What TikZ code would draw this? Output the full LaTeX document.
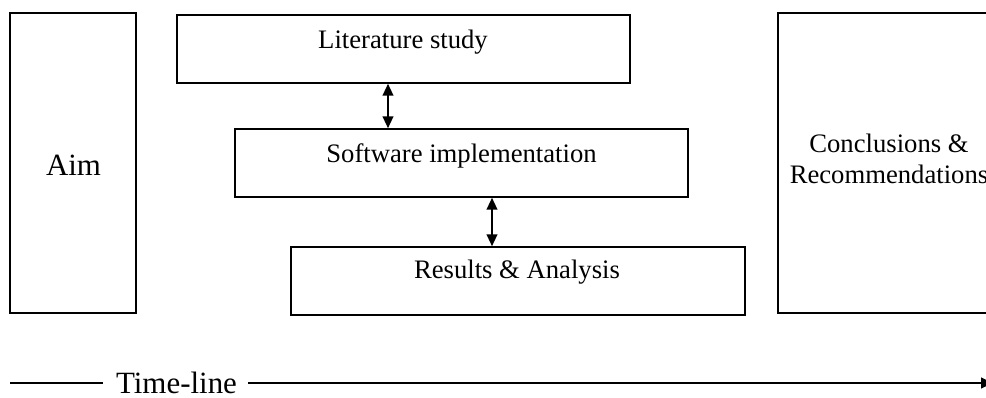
\documentclass[tikz,border=0pt]{standalone}
\usepackage{fontspec}
\setmainfont{Liberation Serif}
\usetikzlibrary{arrows.meta,fit}
\begin{document}
\begin{tikzpicture}[x=0.75pt,y=-0.75pt,
  thinbox/.style={draw=black,line width=1.1pt,inner sep=0pt},
  thickbox/.style={draw=black,line width=1.5pt,inner sep=0pt},
  txt/.style={anchor=base,inner sep=0pt,font=\fontsize{20pt}{23pt}\selectfont},
  bigtxt/.style={anchor=base,inner sep=0pt,font=\fontsize{23.2pt}{27pt}\selectfont},
  dblarrow/.style={line width=1.5pt,{Triangle[length=9pt,width=8pt]}-{Triangle[length=9pt,width=8pt]}},
  tlarrow/.style={line width=1.5pt,-{Triangle[length=9pt,width=8pt]}}]
\useasboundingbox (0,0) rectangle (986,397);
\clip (0,0) rectangle (986,397);
% boxes
\node[thickbox,fit={(10,13) (136,313)}] (aim) {};
\node[thinbox,fit={(177,15) (630,83)}] (lit) {};
\node[thinbox,fit={(235,129) (688,197)}] (sw) {};
\node[thinbox,fit={(291,247) (745,315)}] (res) {};
\node[thickbox,fit={(778,13) (1000,313)}] (conc) {};
% texts
\node[bigtxt] (aimtext) at (73.5,175) {Aim};
\node[txt] (littext) at (403,48) {Literature study};
\node[txt] (swtext) at (461.5,162) {Software implementation};
\node[txt] (restext) at (517,278) {Results \& Analysis};
\node[txt] (conctext1) at (889,152) {Conclusions \&};
\node[txt] (conctext2) at (889,183) {Recommendations};
% connectors
\coordinate (a1) at (388,0);
\coordinate (a2) at (492,0);
\draw[dblarrow] (lit.south -| a1) -- (sw.north -| a1);
\draw[dblarrow] (sw.south -| a2) -- (res.north -| a2);
% time-line
\node[bigtxt] (tl) at (176.5,393) {Time-line};
\coordinate (tlstart) at (10,383);
\coordinate (tlend) at (993,383);
\coordinate (tlgapl) at (103,383);
\coordinate (tlgapr) at (248,383);
\draw[line width=1.5pt] (tlstart) -- (tlgapl);
\draw[tlarrow] (tlgapr) -- (tlend);
\end{tikzpicture}
\end{document}
